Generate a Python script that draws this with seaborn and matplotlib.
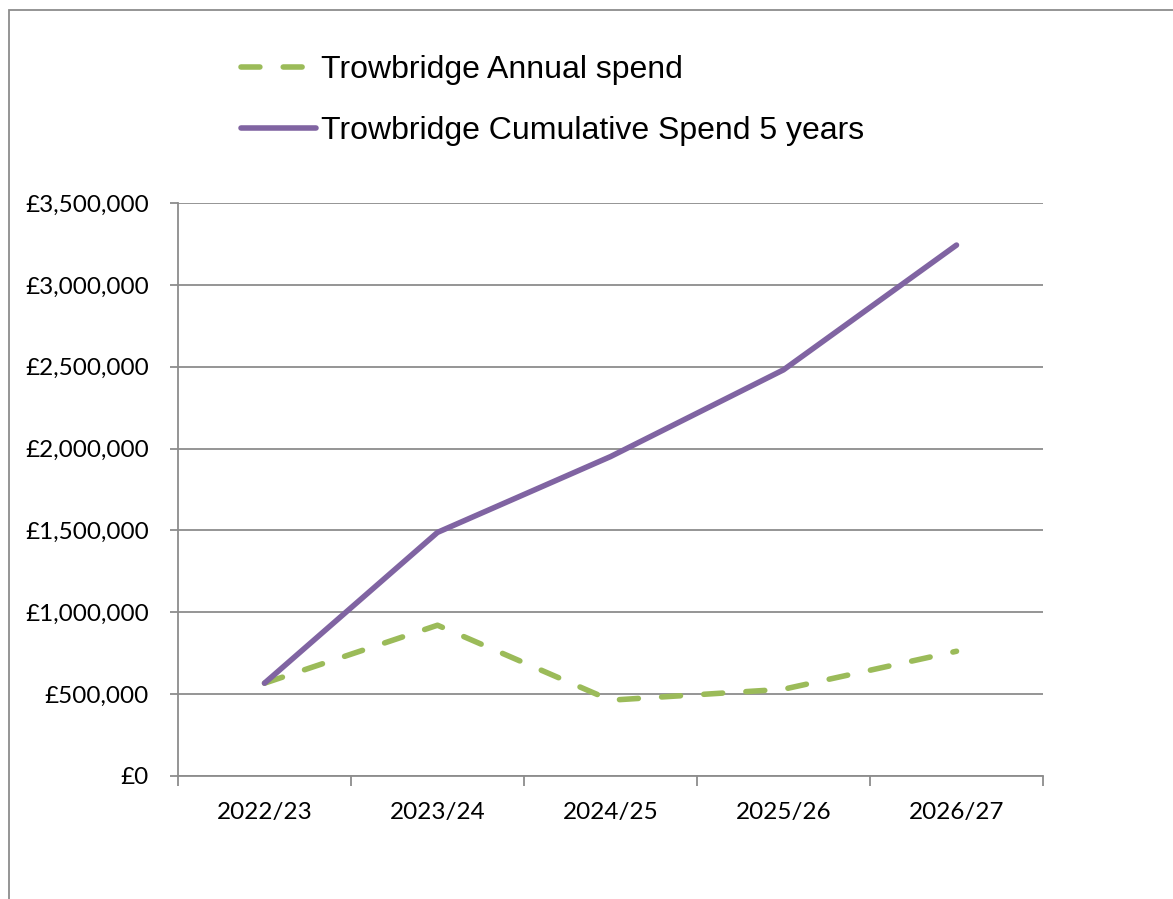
import matplotlib
matplotlib.use("Agg")
import matplotlib.pyplot as plt
import seaborn as sns
import pandas as pd
from matplotlib.patches import Rectangle
from matplotlib.ticker import FuncFormatter

years = ["2022/23", "2023/24", "2024/25", "2025/26", "2026/27"]
annual = [567000, 921000, 463000, 530000, 762000]
cumulative = [567000, 1488000, 1951000, 2481000, 3243000]
label_annual = "Trowbridge Annual spend"
label_cum = "Trowbridge Cumulative Spend 5 years"

sns.set_theme(style="white")
plt.rcParams['font.family'] = ['Lato', 'DejaVu Sans']
plt.rcParams['text.color'] = 'black'

fig = plt.figure(figsize=(11.73, 8.99), dpi=100)
ax = fig.add_axes([178/1173, 1-776/899, (1043-178)/1173, (776-203)/899])

df = pd.DataFrame({"year": years, "annual": annual, "cum": cumulative})
x = list(range(len(years)))
df["x"] = x

green = "#9BBB59"
purple = "#8064A2"
lw = 4.0
sns.lineplot(data=df, x="x", y="annual", ax=ax, color=green, lw=lw,
             label=label_annual)
sns.lineplot(data=df, x="x", y="cum", ax=ax, color=purple, lw=lw,
             label=label_cum)
l_ann, l_cum = ax.get_lines()[0], ax.get_lines()[1]
l_ann.set_dashes([3.4, 4.2])
l_ann.set_dash_capstyle("round")
l_cum.set_solid_capstyle("round")
l_cum.set_solid_joinstyle("round")

ax.set_xlim(-0.5, 4.5)
ax.set_ylim(0, 3500000)
ax.set_yticks(range(0, 3500001, 500000))
ax.yaxis.set_major_formatter(FuncFormatter(lambda v, p: f"£{int(v):,}"))
ax.set_xticks(x)
ax.set_xticklabels(years)
ax.set_xticks([i - 0.5 for i in range(6)], minor=True)
ax.set_xlabel("")
ax.set_ylabel("")
ax.grid(axis="y", color="#8c8c8c", lw=1.3)
ax.set_axisbelow(True)
for s in ["top", "right"]:
    ax.spines[s].set_visible(False)
for s in ["left", "bottom"]:
    ax.spines[s].set_color("#8c8c8c")
    ax.spines[s].set_linewidth(1.3)
ax.tick_params(axis="y", which="major", length=6, width=1.3, color="#8c8c8c",
               left=True, labelsize=17.5, pad=15, labelcolor="black")
ax.tick_params(axis="x", which="major", length=0, labelsize=17.5, pad=19, labelcolor="black")
ax.tick_params(axis="x", which="minor", length=7, width=1.3, color="#8c8c8c", bottom=True)

leg = ax.legend(loc="upper left", bbox_to_anchor=(228/1173, 1-42/899),
                bbox_transform=fig.transFigure, frameon=False,
                prop={"family": "Liberation Sans", "size": 23},
                handlelength=2.35, handletextpad=0.15, labelspacing=0.97,
                borderaxespad=0)
for h in leg.get_lines():
    h.set_linewidth(lw)
for t in leg.get_texts():
    t.set_color("black")

fig.patches.append(Rectangle((9/1173, -0.1), 1.2, 1 - 10/899 + 0.1,
                             transform=fig.transFigure, fill=False,
                             edgecolor="#8c8c8c", lw=1.3))

fig.savefig("out.png", dpi=100)
